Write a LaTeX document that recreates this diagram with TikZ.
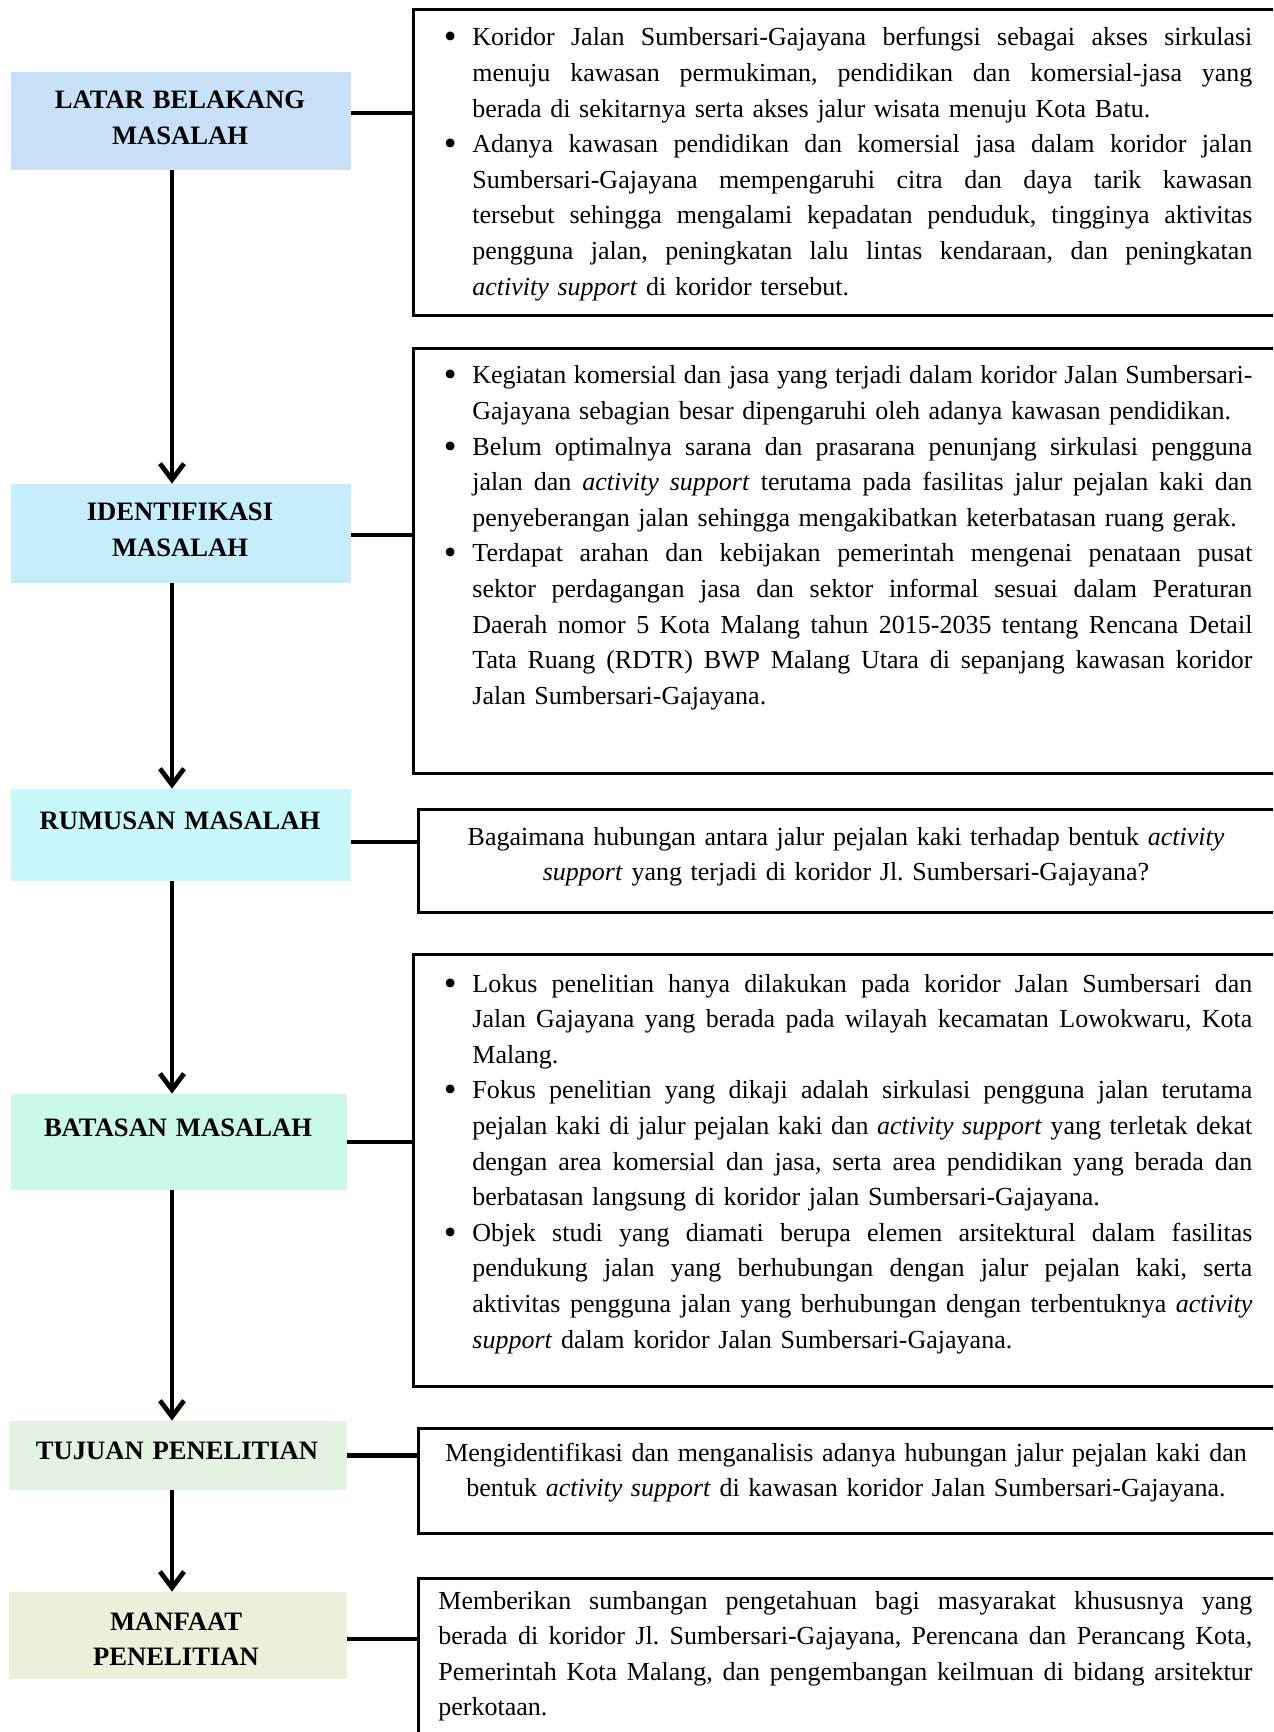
\documentclass[tikz,border=0pt]{standalone}
\usepackage{fontspec}
\setmainfont{Liberation Serif}
\usetikzlibrary{arrows.meta}
\definecolor{cLat}{RGB}{200,225,248}
\definecolor{cIde}{RGB}{197,237,252}
\definecolor{cRum}{RGB}{200,248,250}
\definecolor{cBat}{RGB}{201,248,235}
\definecolor{cTuj}{RGB}{227,242,225}
\definecolor{cMan}{RGB}{235,240,218}
\frenchspacing
\newlength\hangw \setlength\hangw{13.5pt}
\newlength\tlw \setlength\tlw{390pt}
\newlength\tlwb \setlength\tlwb{407pt}
\newcommand\mybul{\hspace*{-0.8pt}\raisebox{-1.5pt}{\scalebox{1.4}{\textbullet}}}
\newcommand\sglue{\spaceskip=0.25em plus 1em minus 0.06em\relax}
\newcommand\bitem[1]{\noindent\makebox[\hangw][l]{\mybul}\hbox to \tlw{\sglue #1}\par}
\newcommand\bjust[1]{\noindent\hspace*{\hangw}\hbox to \tlw{\sglue #1}\par}
\newcommand\blast[1]{\noindent\hspace*{\hangw}#1\par}
\newcommand\jline[1]{\noindent\hbox to \tlwb{\sglue #1}\par}
\newcommand\lline[1]{\noindent #1\par}
\begin{document}
\begin{tikzpicture}[x=0.5pt,y=-0.5pt,
  lbox/.style={rectangle, inner sep=0pt, draw=none},
  ltitle/.style={inner sep=0pt, anchor=base, text width=160pt, align=center,
     font=\fontsize{13.3}{17.8}\selectfont\bfseries},
  rbox/.style={rectangle, draw=black, line width=1.3pt, inner sep=0pt, anchor=north west, minimum width=439pt},
  btext/.style={inner sep=0pt, anchor=base west, font=\fontsize{13}{17.8}\selectfont},
  ctext/.style={inner sep=0pt, anchor=base, text width=415pt, align=center, font=\fontsize{13}{17.8}\selectfont},
  arr/.style={line width=2.4pt, -{Straight Barb[length=8pt,width=12pt]}},
  conn/.style={line width=2.3pt}]
\useasboundingbox (0,0) rectangle (1273,1732);
\clip (0,0) rectangle (1273,1732);

% left boxes
\node[lbox, fill=cLat, minimum width=170pt, minimum height=49pt] (lat) at (181,121) {};
\node[lbox, fill=cIde, minimum width=170pt, minimum height=49.5pt] (ide) at (181,533.5) {};
\node[lbox, fill=cRum, minimum width=170pt, minimum height=46pt] (rum) at (181,835) {};
\node[lbox, fill=cBat, minimum width=168pt, minimum height=48pt] (bat) at (179,1142) {};
\node[lbox, fill=cTuj, minimum width=169pt, minimum height=34.5pt] (tuj) at (178,1455.5) {};
\node[lbox, fill=cMan, minimum width=169pt, minimum height=43.5pt] (man) at (178,1635.5) {};

\node[ltitle] (latT) at (180,109) {LATAR BELAKANG\\MASALAH};
\node[ltitle] (ideT) at (180,521) {IDENTIFIKASI\\MASALAH};
\node[ltitle] (rumT) at (180,829) {RUMUSAN MASALAH};
\node[ltitle] (batT) at (178,1136) {BATASAN MASALAH};
\node[ltitle] (tujT) at (177,1459) {TUJUAN PENELITIAN};
\node[ltitle] (manT) at (176,1630) {MANFAAT\\PENELITIAN};

% right boxes
\node[rbox, minimum height=153pt] (b1) at (412,8) {};
\node[rbox, minimum height=212.5pt] (b2) at (412,347) {};
\node[rbox, minimum height=51.5pt] (b3) at (417,808) {};
\node[rbox, minimum height=216pt] (b4) at (412,953) {};
\node[rbox, minimum height=52.5pt] (b5) at (417,1427) {};
\node[rbox, minimum height=100pt] (b6) at (417,1577) {};

% texts
\node[btext, text width=403.5pt] (t1) at (445,46) {\bitem{Koridor Jalan Sumbersari-Gajayana berfungsi sebagai akses sirkulasi}%
\bjust{menuju kawasan permukiman, pendidikan dan komersial-jasa yang}%
\blast{berada di sekitarnya serta akses jalur wisata menuju Kota Batu.}%
\bitem{Adanya kawasan pendidikan dan komersial jasa dalam koridor jalan}%
\bjust{Sumbersari-Gajayana mempengaruhi citra dan daya tarik kawasan}%
\bjust{tersebut sehingga mengalami kepadatan penduduk, tingginya aktivitas}%
\bjust{pengguna jalan, peningkatan lalu lintas kendaraan, dan peningkatan}%
\blast{\textit{activity support} di koridor tersebut.}};

\node[btext, text width=403.5pt] (t2) at (445,384) {\bitem{Kegiatan komersial dan jasa yang terjadi dalam koridor Jalan Sumbersari-}%
\blast{Gajayana sebagian besar dipengaruhi oleh adanya kawasan pendidikan.}%
\bitem{Belum optimalnya sarana dan prasarana penunjang sirkulasi pengguna}%
\bjust{jalan dan \textit{activity support} terutama pada fasilitas jalur pejalan kaki dan}%
\blast{penyeberangan jalan sehingga mengakibatkan keterbatasan ruang gerak.}%
\bitem{Terdapat arahan dan kebijakan pemerintah mengenai penataan pusat}%
\bjust{sektor perdagangan jasa dan sektor informal sesuai dalam Peraturan}%
\bjust{Daerah nomor 5 Kota Malang tahun 2015-2035 tentang Rencana Detail}%
\bjust{Tata Ruang (RDTR) BWP Malang Utara di sepanjang kawasan koridor}%
\blast{Jalan Sumbersari-Gajayana.}};

\node[ctext] (t3) at (846,845) {Bagaimana hubungan antara jalur pejalan kaki terhadap bentuk \textit{activity}\\\textit{support} yang terjadi di koridor Jl. Sumbersari-Gajayana?};

\node[btext, text width=403.5pt] (t4) at (445,992) {\bitem{Lokus penelitian hanya dilakukan pada koridor Jalan Sumbersari dan}%
\bjust{Jalan Gajayana yang berada pada wilayah kecamatan Lowokwaru, Kota}%
\blast{Malang.}%
\bitem{Fokus penelitian yang dikaji adalah sirkulasi pengguna jalan terutama}%
\bjust{pejalan kaki di jalur pejalan kaki dan \textit{activity support} yang terletak dekat}%
\bjust{dengan area komersial dan jasa, serta area pendidikan yang berada dan}%
\blast{berbatasan langsung di koridor jalan Sumbersari-Gajayana.}%
\bitem{Objek studi yang diamati berupa elemen arsitektural dalam fasilitas}%
\bjust{pendukung jalan yang berhubungan dengan jalur pejalan kaki, serta}%
\bjust{aktivitas pengguna jalan yang berhubungan dengan terbentuknya \textit{activity}}%
\blast{\textit{support} dalam koridor Jalan Sumbersari-Gajayana.}};

\node[ctext] (t5) at (846,1461) {Mengidentifikasi dan menganalisis adanya hubungan jalur pejalan kaki dan\\bentuk \textit{activity support} di kawasan koridor Jalan Sumbersari-Gajayana.};

\node[btext, text width=407pt] (t6) at (438,1609) {\jline{Memberikan sumbangan pengetahuan bagi masyarakat khususnya yang}%
\jline{berada di koridor Jl. Sumbersari-Gajayana, Perencana dan Perancang Kota,}%
\jline{Pemerintah Kota Malang, dan pengembangan keilmuan di bidang arsitektur}%
\lline{perkotaan.}};

% vertical arrows
\draw[arr] ([xshift=-4.5pt]lat.south) -- ([xshift=-4.5pt]lat.south |- ide.north);
\draw[arr] ([xshift=-4.5pt]ide.south) -- ([xshift=-4.5pt]ide.south |- rum.north);
\draw[arr] ([xshift=-4.5pt]rum.south) -- ([xshift=-4.5pt]rum.south |- bat.north);
\draw[arr] ([xshift=-3.5pt]bat.south) -- ([xshift=-3.5pt]bat.south |- tuj.north);
\draw[arr] ([xshift=-3pt]tuj.south) -- ([xshift=-3pt]tuj.south |- man.north);

% horizontal connectors
\draw[conn] ([yshift=4pt]lat.east) -- ([yshift=4pt]lat.east -| b1.west);
\draw[conn] ([yshift=-0.7pt]ide.east) -- ([yshift=-0.7pt]ide.east -| b2.west);
\draw[conn] ([yshift=-3.5pt]rum.east) -- ([yshift=-3.5pt]rum.east -| b3.west);
\draw[conn] (bat.east) -- (bat.east -| b4.west);
\draw[conn] (tuj.east) -- (tuj.east -| b5.west);
\draw[conn] ([yshift=-1.75pt]man.east) -- ([yshift=-1.75pt]man.east -| b6.west);
\end{tikzpicture}
\end{document}
